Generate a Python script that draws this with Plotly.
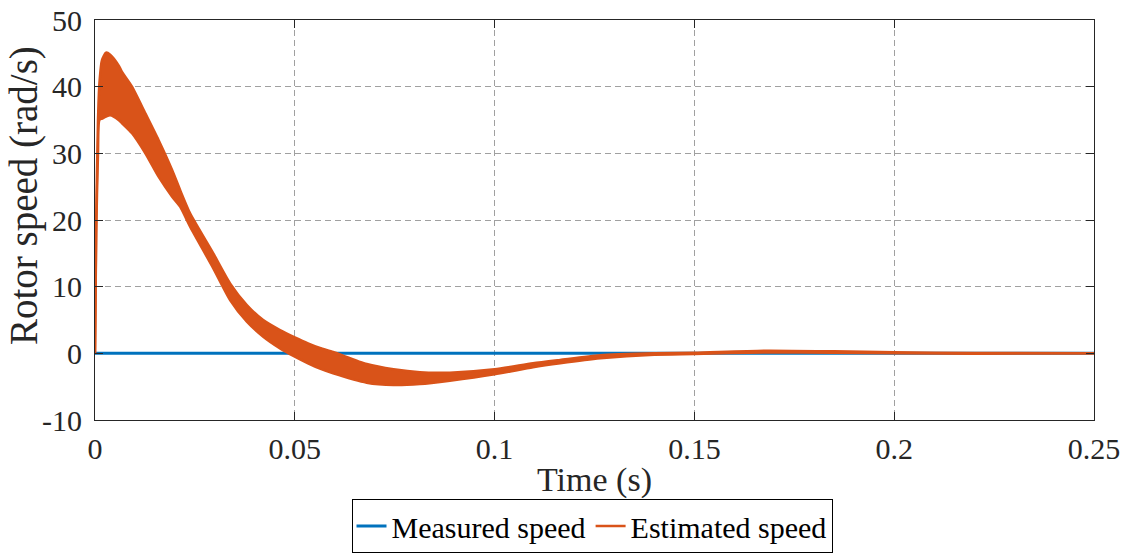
import plotly.graph_objects as go

# Time axis samples (s) and envelope of the estimated rotor speed (rad/s)
time_s = [0.0, 0.0003, 0.00075, 0.0011, 0.00175, 0.00275, 0.0038, 0.0059,
          0.00676, 0.00926, 0.0126, 0.0159, 0.0193, 0.0213, 0.0238, 0.0296,
          0.0338, 0.038, 0.0421, 0.0463, 0.05, 0.0533, 0.0563, 0.0596, 0.068,
          0.0747, 0.0813, 0.0888, 0.1, 0.1096, 0.1164, 0.1264, 0.14,
          0.15, 0.168, 0.185, 0.2, 0.22, 0.25]
est_upper = [0.0, 20.0, 35.0, 40.5, 44.0, 45.1, 44.8, 43.2,
             42.2, 40.0, 36.0, 32.0, 27.5, 24.5, 21.0, 15.0,
             10.5, 7.25, 5.0, 3.5, 2.4, 1.5, 0.8, 0.2, -1.6,
             -2.4, -2.85, -2.9, -2.4, -1.5, -1.0, -0.3, 0.0,
             0.1, 0.4, 0.3, 0.15, 0.05, 0.0]
est_lower = [0.0, 18.0, 30.0, 35.0, 35.2, 35.5, 35.7, 35.0,
             34.5, 33.0, 30.0, 26.5, 23.5, 22.0, 19.0, 12.75,
             8.0, 4.75, 2.5, 0.75, -0.5, -1.5, -2.3, -3.0, -4.4,
             -4.75, -4.6, -4.1, -3.15, -2.1, -1.5, -0.75, -0.2,
             -0.1, 0.15, 0.1, 0.0, -0.05, 0.0]

# Measured rotor speed (rad/s)
meas_t = [0.0, 0.25]
meas_speed = [0.0, 0.0]

x_ticks = [0, 0.05, 0.1, 0.15, 0.2, 0.25]
x_tick_text = ["0", "0.05", "0.1", "0.15", "0.2", "0.25"]
y_ticks = [-10, 0, 10, 20, 30, 40, 50]
y_tick_text = ["-10", "0", "10", "20", "30", "40", "50"]

BLUE = "#0072BD"
ORANGE = "#D95319"
AXIS = "#262626"
FONT = "Liberation Serif"

fig = go.Figure()

fig.add_trace(go.Scatter(
    x=meas_t, y=meas_speed, mode="lines", name="Measured speed",
    line=dict(color=BLUE, width=3),
))

# Estimated speed: fast ripple drawn as a band between its envelopes
fig.add_trace(go.Scatter(
    x=time_s, y=est_upper, mode="lines", name="Estimated speed",
    line=dict(color=ORANGE, width=2.5, shape="spline", smoothing=0.6),
    legendgroup="est",
))
fig.add_trace(go.Scatter(
    x=time_s, y=est_lower, mode="lines", name="Estimated speed",
    line=dict(color=ORANGE, width=2.5, shape="spline", smoothing=0.6),
    fill="tonexty", fillcolor=ORANGE,
    legendgroup="est", showlegend=False,
))

axis_common = dict(
    showline=True, linecolor=AXIS, linewidth=1, mirror="ticks",
    ticks="inside", ticklen=8, tickcolor=AXIS, tickwidth=1,
    showgrid=True, gridcolor="#a0a0a0", gridwidth=1, griddash="6px,4px",
    zeroline=False, automargin=False,
    tickfont=dict(family=FONT, size=30, color=AXIS),
)

fig.update_xaxes(
    range=[0, 0.25], tickvals=x_ticks, ticktext=x_tick_text,
    title=dict(text="Time (s)", font=dict(family=FONT, size=34, color=AXIS),
               standoff=3),
    ticklabelstandoff=2,
    **axis_common,
)
fig.update_yaxes(
    range=[-10, 50], tickvals=y_ticks, ticktext=y_tick_text,
    ticklabelstandoff=6,
    **axis_common,
)

# Y-axis label placed as a rotated annotation
fig.add_annotation(
    text="Rotor speed (rad/s)", textangle=-90,
    xref="paper", yref="paper", x=-0.071, y=0.56,
    xanchor="center", yanchor="middle", showarrow=False,
    font=dict(family=FONT, size=39, color=AXIS),
)

fig.update_layout(
    width=1131, height=554,
    margin=dict(l=95, r=37, t=20, b=134, autoexpand=False),
    paper_bgcolor="white", plot_bgcolor="white",
    showlegend=True,
    legend=dict(
        orientation="h", x=0.4975, xanchor="center", y=-0.3325, yanchor="bottom",
        bordercolor="black", borderwidth=1, bgcolor="white",
        font=dict(family=FONT, size=30, color="black"),
        itemwidth=30, tracegroupgap=0,
    ),
)

fig.write_html("out.html")
